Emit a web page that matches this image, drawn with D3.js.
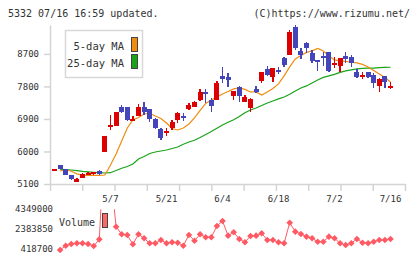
<!DOCTYPE html>
<html>
<head>
<meta charset="utf-8">
<script src="https://cdn.jsdelivr.net/npm/d3@7"></script>
<style>
body { margin: 0; background: #fff; }
svg { display: block; font-family: "DejaVu Sans Mono", monospace; }
</style>
</head>
<body>
<div id="chart"></div>
<script>
// trading days shown (2025), with the labelled ones below
var dates = ["4/18","4/21","4/22","4/23","4/24","4/25","4/28","4/30","5/1","5/2",
  "5/7","5/8","5/9","5/12","5/13","5/14","5/15","5/16","5/19","5/20",
  "5/21","5/22","5/23","5/26","5/27","5/28","5/29","5/30","6/2","6/3",
  "6/4","6/5","6/6","6/9","6/10","6/11","6/12","6/13","6/16","6/17",
  "6/18","6/19","6/20","6/23","6/24","6/25","6/26","6/27","6/30","7/1",
  "7/2","7/3","7/4","7/7","7/8","7/9","7/10","7/11","7/14","7/15","7/16"];
var dateTicks = ["5/7","5/21","6/4","6/18","7/2","7/16"];
var priceTicks = [5100, 6000, 6900, 7800, 8700];
var volTicks = [4349000, 2383850, 418700];

var open  = [5500,5625,5515,5340,5165,5275,5380,5370,5460,5995,6670,6715,7240,7220,6890,6985,7220,7170,6900,6620,
  6520,6640,6870,6990,7165,7225,7425,7640,7425,7425,8100,8070,7540,7795,7380,7195,7730,7960,8285,8070,
  8255,8575,8670,9455,8780,8995,8720,8535,8645,8745,8395,8375,8645,8610,8210,8055,8195,8120,7820,8090,7785];
var high  = [5510,5625,5520,5340,5265,5395,5440,5440,5480,6430,7010,7105,7290,7240,6980,7305,7360,7175,6920,6640,
  6640,6870,7100,7060,7330,7400,7720,7720,7470,7960,8350,8165,7685,7815,7560,7475,7820,8210,8365,8300,
  8350,8625,9365,9500,8860,9040,8810,8540,8745,8765,8610,8580,8745,8670,8275,8210,8210,8165,8025,8090,7935];
var low   = [5500,5515,5350,5200,5160,5255,5350,5360,5360,5995,6595,6700,7060,6850,6830,6985,7010,6825,6615,6320,
  6430,6595,6800,6850,7150,7225,7405,7335,7085,7425,7890,7795,7425,7380,7380,7100,7610,7890,8100,7930,
  8145,8350,8670,8810,8555,8720,8440,8240,8375,8210,8305,8210,8440,8350,8025,8000,8025,7765,7655,7750,7720];
var close = [5510,5515,5350,5230,5230,5370,5395,5430,5380,6430,6730,7100,7100,6870,6910,7240,7100,6900,6640,6365,
  6575,6825,7075,6960,7290,7380,7655,7585,7270,7905,8010,7980,7685,7535,7520,7455,7655,8210,8120,8300,
  8230,8390,9320,8860,8670,8860,8515,8485,8600,8235,8460,8580,8555,8440,8070,8120,8055,7890,7995,7930,7810];

var ma5 = [null,5460,5493,5452,5382,5344,5341,5341,5341,5349,5626,5931,6291,6651,6872,6941,7038,7058,6983,6914,
  6789,6637,6595,6651,6761,6928,7135,7329,7426,7509,7592,7661,7731,7758,7717,7647,7647,7564,7647,7744,
  7869,8091,8340,8561,8658,8741,8783,8852,8783,8644,8534,8506,8492,8470,8450,8409,8340,8243,8146,8049,7924];
var ma25 = [null,5507,5501,5488,5471,5452,5438,5424,5413,5405,5413,5474,5535,5585,5654,5790,5860,5945,5986,6014,
  6041,6083,6125,6199,6263,6310,6388,6471,6554,6645,6734,6808,6878,6969,7074,7149,7204,7274,7343,7398,
  7454,7509,7584,7675,7758,7814,7897,7980,8049,8091,8132,8188,8229,8257,8284,8298,8304,8307,8318,8326,8331];
var volume = [null,350000,772000,940000,1008000,1008000,940000,743000,1400000,12000000,8000000,
  2639000,1893000,1824000,910000,1893000,1500000,1008000,1008000,1333000,1008000,
  1106000,1067000,772000,1824000,1264000,1893000,1598000,1598000,2708000,3199000,
  1761000,2089000,1430000,1106000,1726000,1761000,1991000,1333000,1333000,1106000,
  1008000,3032000,2153000,1923000,1662000,1500000,1165000,1165000,1662000,1500000,
  1008000,845000,1008000,1430000,1067000,1008000,1165000,1333000,1333000,1430000];

var width = 420, height = 259;
var upColor = "#dd0000", downColor = "#4444bb";
var axisColor = "#d4d4d4", textColor = "#333";

var svg = d3.select("#chart").append("svg")
    .attr("width", width)
    .attr("height", height);

var x = d3.scalePoint().domain(dates).range([54.5, 390.5]);
var y = d3.scaleLinear().domain([5100, 9500]).range([184, 25]);
var yVol = d3.scaleLinear().domain([418700, 4349000]).range([249.3, 209.3]);
var frame = d3.scaleLinear().domain([0, 11]).range([50, 405]); // bottom tick marks

var candles = dates.map(function(d, i) {
    return {date: d, o: open[i], h: high[i], l: low[i], c: close[i]};
});

// header
svg.append("text").attr("x", 8).attr("y", 17)
    .attr("font-size", 10).attr("fill", textColor)
    .text("5332 07/16 16:59 updated.");
svg.append("text").attr("x", 410).attr("y", 17)
    .attr("font-size", 10).attr("fill", textColor).attr("text-anchor", "end")
    .text("(C)https://www.rizumu.net/");

// left axis
var yAxis = svg.append("g")
    .attr("transform", "translate(50,0)")
    .call(d3.axisLeft(y).tickValues(priceTicks).tickFormat(d3.format("d"))
        .tickSize(6).tickSizeOuter(0).tickPadding(5));
yAxis.selectAll("path, line").attr("stroke", axisColor).attr("stroke-width", 1.5);
yAxis.selectAll("text").attr("font-size", 9).attr("fill", textColor)
    .attr("font-family", "DejaVu Sans Mono, monospace");

// bottom axis
var xAxis = svg.append("g")
    .attr("transform", "translate(0,184)")
    .call(d3.axisBottom(frame).tickValues(d3.range(12)).tickSize(7).tickSizeOuter(0).tickFormat(""));
xAxis.selectAll("path, line").attr("stroke", axisColor).attr("stroke-width", 1.5);

svg.selectAll(".dlabel")
    .data(dateTicks)
    .enter().append("text")
    .attr("class", "dlabel")
    .attr("x", function(d) { return x(d); })
    .attr("y", 202)
    .attr("text-anchor", "middle")
    .attr("font-size", 9).attr("fill", textColor)
    .text(function(d) { return d; });

// moving averages
var maLine = d3.line()
    .defined(function(d) { return d.v != null; })
    .x(function(d) { return x(d.date); })
    .y(function(d) { return y(d.v); });

svg.append("path")
    .datum(dates.map(function(d, i) { return {date: d, v: ma25[i]}; }))
    .attr("d", maLine)
    .attr("fill", "none").attr("stroke", "#1aa31a").attr("stroke-width", 1.2);

svg.append("path")
    .datum(dates.map(function(d, i) { return {date: d, v: ma5[i]}; }))
    .attr("d", maLine)
    .attr("fill", "none").attr("stroke", "#f08c10").attr("stroke-width", 1.2);

// candles
var cg = svg.append("g").attr("shape-rendering", "crispEdges");
cg.selectAll(".wick")
    .data(candles)
    .enter().append("line")
    .attr("x1", function(d) { return x(d.date); })
    .attr("x2", function(d) { return x(d.date); })
    .attr("y1", function(d) { return y(d.h); })
    .attr("y2", function(d) { return y(d.l); })
    .attr("stroke", function(d) { return d.c >= d.o ? upColor : downColor; })
    .attr("stroke-width", 1.5);
cg.selectAll(".body")
    .data(candles)
    .enter().append("rect")
    .attr("x", function(d) { return x(d.date) - 2.5; })
    .attr("width", 5)
    .attr("y", function(d) { return y(Math.max(d.o, d.c)); })
    .attr("height", function(d) { return Math.max(2, Math.abs(y(d.o) - y(d.c))); })
    .attr("fill", function(d) { return d.c >= d.o ? upColor : downColor; });

// legend
svg.append("rect").attr("x", 65.5).attr("y", 30.5).attr("width", 77).attr("height", 47)
    .attr("fill", "#fff").attr("stroke", "#d8d8d8").attr("stroke-width", 1.5);
svg.append("text").attr("x", 124).attr("y", 50)
    .attr("font-size", 10.5).attr("fill", textColor).attr("text-anchor", "end").text("5-day MA");
svg.append("text").attr("x", 124).attr("y", 67)
    .attr("font-size", 10.5).attr("fill", textColor).attr("text-anchor", "end").text("25-day MA");
svg.append("rect").attr("x", 131.5).attr("y", 37.5).attr("width", 6).attr("height", 14)
    .attr("fill", "#f08c10").attr("stroke", "#444");
svg.append("rect").attr("x", 131.5).attr("y", 54.5).attr("width", 6).attr("height", 14)
    .attr("fill", "#1aa31a").attr("stroke", "#444");

// volume panel
svg.selectAll(".vlabel")
    .data(volTicks)
    .enter().append("text")
    .attr("x", 53)
    .attr("y", function(d) { return yVol(d) + 3; })
    .attr("text-anchor", "end")
    .attr("font-size", 9).attr("fill", textColor)
    .text(function(d) { return d; });

svg.append("text").attr("x", 59).attr("y", 226)
    .attr("font-size", 10).attr("fill", textColor).text("Volume");
svg.append("rect").attr("x", 102.5).attr("y", 213.5).attr("width", 5).attr("height", 14)
    .attr("fill", "#ff6666").attr("stroke", "#444");

svg.append("clipPath").attr("id", "volclip")
    .append("rect").attr("x", 0).attr("y", yVol(4349000)).attr("width", width).attr("height", 60);

var volData = dates.map(function(d, i) { return {date: d, v: volume[i]}; });
var vg = svg.append("g").attr("clip-path", "url(#volclip)");
vg.append("path")
    .datum(volData)
    .attr("d", d3.line()
        .defined(function(d) { return d.v != null; })
        .x(function(d) { return x(d.date); })
        .y(function(d) { return yVol(d.v); }))
    .attr("fill", "none").attr("stroke", "#ff5a64").attr("stroke-width", 1);
vg.selectAll(".vpt")
    .data(volData.filter(function(d) { return d.v != null; }))
    .enter().append("path")
    .attr("d", d3.symbol(d3.symbolSquare, 22))
    .attr("transform", function(d) { return "translate(" + x(d.date) + "," + yVol(d.v) + ") rotate(45)"; })
    .attr("fill", "#ff5a64");
</script>
</body>
</html>
